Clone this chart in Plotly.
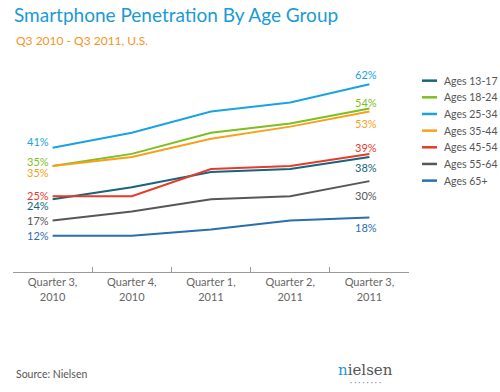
import plotly.graph_objects as go

quarters = ["Quarter 3,<br>2010", "Quarter 4,<br>2010", "Quarter 1,<br>2011", "Quarter 2,<br>2011", "Quarter 3,<br>2011"]
series_names = ["Ages 13-17", "Ages 18-24", "Ages 25-34", "Ages 35-44", "Ages 45-54", "Ages 55-64", "Ages 65+"]
ages_13_17 = [24, 28, 33, 34, 38]
ages_18_24 = [35, 39, 46, 49, 54]
ages_25_34 = [41, 46, 53, 56, 62]
ages_35_44 = [35, 38, 44, 48, 53]
ages_45_54 = [25, 25, 34, 35, 39]
ages_55_64 = [17, 20, 24, 25, 30]
ages_65_plus = [12, 12, 14, 17, 18]

values = [ages_13_17, ages_18_24, ages_25_34, ages_35_44, ages_45_54, ages_55_64, ages_65_plus]
colors = ["#17657c", "#7cbf1f", "#19a3e3", "#f8a01c", "#e63a2a", "#575757", "#2a6ead"]
# vertical offsets (px) for start / end labels
start_shift = [-6, 5, 6, -6, 1, 0, 0]
end_shift = [-11, 6, 10, -12, 6, -14, -10]

FONT = "Lato"
fig = go.Figure()
for name, vals, col in zip(series_names, values, colors):
    fig.add_trace(go.Scatter(x=quarters, y=vals, mode="lines", name=name,
                             line=dict(color=col, width=2), hoverinfo="skip", showlegend=False))

annotations = []
for vals, col, s0, s1 in zip(values, colors, start_shift, end_shift):
    annotations.append(dict(x=quarters[0], y=vals[0], xref="x", yref="y", text=f"{vals[0]}%",
                            showarrow=False, xanchor="right", xshift=-2, yshift=s0,
                            font=dict(family=FONT, size=11, color=col)))
    annotations.append(dict(x=quarters[-1], y=vals[-1], xref="x", yref="y", text=f"{vals[-1]}%",
                            showarrow=False, xanchor="center", xshift=-3, yshift=s1,
                            font=dict(family=FONT, size=11, color=col)))

# helpers for pixel-based paper coordinates
L, T, W, H = 13, 60, 396, 212.5
def px(xp, yp):
    return (xp - L) / W, 1 - (yp - T) / H

# custom legend (short swatches like the reference)
shapes = []
for i, (name, col) in enumerate(zip(series_names, colors)):
    yrow = 80.7 + i * 16.7
    x0, y0 = px(422, yrow)
    x1, _ = px(437, yrow)
    shapes.append(dict(type="line", xref="paper", yref="paper", x0=x0, x1=x1, y0=y0, y1=y0,
                       line=dict(color=col, width=2.5)))
    tx, ty = px(442, yrow)
    annotations.append(dict(x=tx, y=ty, xref="paper", yref="paper", text=name, showarrow=False,
                            xanchor="left", yanchor="middle",
                            font=dict(family=FONT, size=10.5, color="#555555")))

sx, sy = px(14, 40)
annotations.append(dict(x=sx, y=sy, xref="paper", yref="paper", text="Q3 2010 - Q3 2011, U.S.",
                        showarrow=False, xanchor="left", yanchor="middle",
                        font=dict(family=FONT, size=12, color="#f7941d")))
sx, sy = px(14, 375)
annotations.append(dict(x=sx, y=sy, xref="paper", yref="paper", text="Source: Nielsen",
                        showarrow=False, xanchor="left", yanchor="middle",
                        font=dict(family=FONT, size=10.5, color="#555555")))
sx, sy = px(365, 371)
annotations.append(dict(x=sx, y=sy, xref="paper", yref="paper",
                        text="<span style='color:#1a9ad6'>n</span>ielsen",
                        showarrow=False, xanchor="center", yanchor="middle",
                        font=dict(family="DejaVu Serif", size=15, color="#555555")))
sx, sy = px(365, 383)
annotations.append(dict(x=sx, y=sy, xref="paper", yref="paper",
                        text="· · · · · · · ·",
                        showarrow=False, xanchor="center", yanchor="middle",
                        font=dict(family=FONT, size=8, color="#777777")))

fig.update_layout(
    width=500, height=392,
    margin=dict(l=L, r=500 - L - W, t=T, b=392 - T - H),
    paper_bgcolor="white", plot_bgcolor="white",
    title=dict(text="Smartphone Penetration By Age Group", x=14/500, xref="container", xanchor="left",
               y=1 - 15/392, yref="container", yanchor="middle",
               font=dict(family=FONT, size=19, color="#1a9ad6")),
    xaxis=dict(showgrid=False, zeroline=False, showline=True, linecolor="#9a9a9a", linewidth=1,
               ticks="inside", tickson="boundaries", ticklen=5, tickcolor="#9a9a9a",
               tickfont=dict(family=FONT, size=11, color="#666666"), range=[-0.5, 4.5],
               automargin=False),
    yaxis=dict(range=[0, 70], visible=False, automargin=False),
    showlegend=False,
    font=dict(family=FONT),
    annotations=annotations,
    shapes=shapes,
)

fig.write_html("out.html", config={"displayModeBar": False})
with open("out.html", "r", encoding="utf-8") as f:
    html = f.read()
html = html.replace("<body>", "<body style=\"margin:0;padding:0\">", 1)
with open("out.html", "w", encoding="utf-8") as f:
    f.write(html)
